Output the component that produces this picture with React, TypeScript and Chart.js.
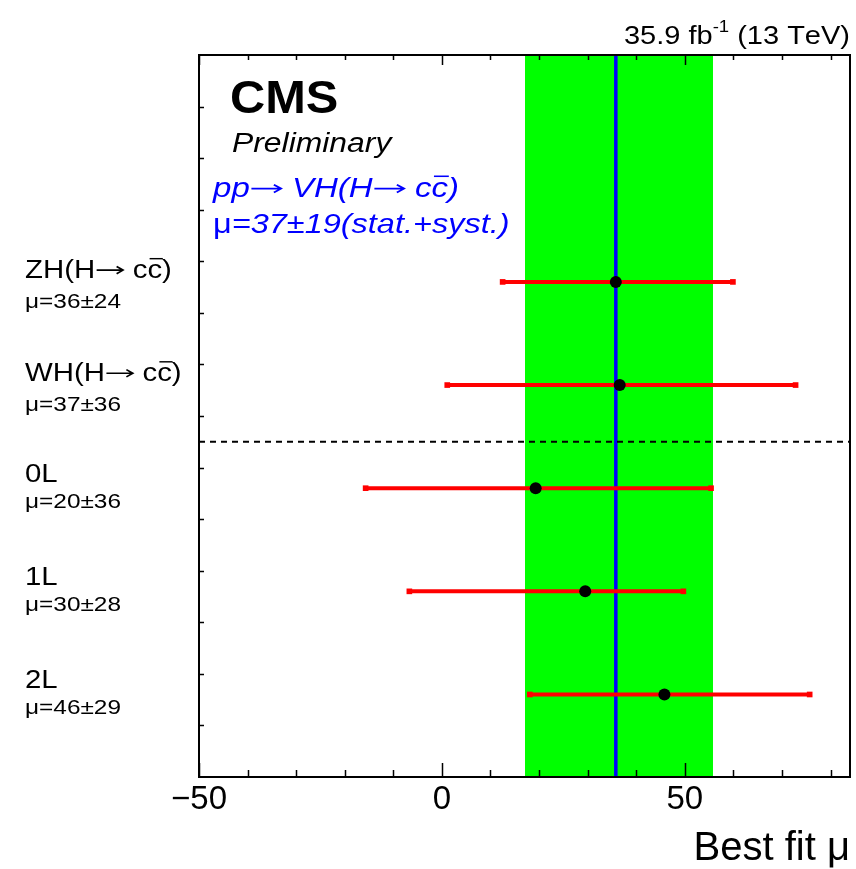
import React, { useEffect, useRef } from 'react';
import { Chart, registerables } from 'chart.js';

Chart.register(...registerables);

// ---- data ----
const categories = ['ZH(H→ cc\u0304)', 'WH(H→ cc\u0304)', '0L', '1L', '2L'];
const muLabels = ['μ=36±24', 'μ=37±36', 'μ=20±36', 'μ=30±28', 'μ=46±29'];
const bestFit = [35.8, 36.6, 19.3, 29.5, 45.8];
const errLow = [12.5, 1.1, -15.7, -6.7, 18.1];
const errHigh = [59.9, 72.8, 55.4, 49.7, 75.7];
const rowY = [9.6, 7.6, 5.6, 3.6, 1.6];
const separatorY = 6.5;
const combined = 35.8;
const combinedLow = 17.1;
const combinedHigh = 55.8;
const xMin = -50;
const xMax = 84;
const yMin = 0;
const yMax = 14;
const xTickLabels = [-50, 0, 50];
const xTickStep = 10;
const lumiMain = '35.9 fb';
const lumiSup = '-1';
const lumiTail = ' (13 TeV)';
const cmsText = 'CMS';
const prelimText = 'Preliminary';
const processText = 'pp→ VH(H→ cc\u0304)';
const muCombinedSym = 'μ';
const muCombinedText = '=37±19(stat.+syst.)';
const xTitle = 'Best fit μ';

const FAMILY = '"Liberation Sans", Arial, Helvetica, sans-serif';
const STRETCH = 1.16;

function charWidth(ctx: CanvasRenderingContext2D, ch: string, size: number) {
  if (ch === '→') return size * 1.0;
  return ctx.measureText(ch).width;
}

function measureRich(ctx: CanvasRenderingContext2D, text: string, size: number) {
  let w = 0;
  for (const ch of Array.from(text)) {
    if (ch === '\u0304') continue;
    w += charWidth(ctx, ch, size);
  }
  return w;
}

function drawRich(ctx: CanvasRenderingContext2D, text: string, x: number, y: number, size: number) {
  let cx = x;
  const chars = Array.from(text);
  const color = ctx.fillStyle as string;
  for (let i = 0; i < chars.length; i++) {
    const ch = chars[i];
    if (ch === '\u0304') continue;
    const w = charWidth(ctx, ch, size);
    if (ch === '→') {
      const ay = y - size * 0.3;
      const x0 = cx + size * 0.05;
      const x1 = cx + size * 0.95;
      ctx.save();
      ctx.strokeStyle = color;
      ctx.lineWidth = Math.max(1, size * 0.06);
      ctx.beginPath();
      ctx.moveTo(x0, ay);
      ctx.lineTo(x1, ay);
      ctx.moveTo(x1 - size * 0.22, ay - size * 0.14);
      ctx.lineTo(x1, ay);
      ctx.lineTo(x1 - size * 0.22, ay + size * 0.14);
      ctx.stroke();
      ctx.restore();
    } else {
      ctx.fillText(ch, cx, y);
    }
    if (chars[i + 1] === '\u0304') {
      const oy = y - size * 0.74;
      ctx.save();
      ctx.strokeStyle = color;
      ctx.lineWidth = Math.max(1, size * 0.055);
      ctx.beginPath();
      ctx.moveTo(cx + w * 0.15, oy);
      ctx.lineTo(cx + w * 1.05, oy);
      ctx.stroke();
      ctx.restore();
    }
    cx += w;
  }
  return cx;
}

function drawText(
  ctx: CanvasRenderingContext2D,
  text: string,
  x: number,
  y: number,
  size: number,
  opt: { style?: string; weight?: string; stretch?: number; align?: 'left' | 'right' } = {}
) {
  const stretch = opt.stretch ?? STRETCH;
  ctx.font = `${opt.style ?? 'normal'} ${opt.weight ?? 'normal'} ${size}px ${FAMILY}`;
  const w = measureRich(ctx, text, size) * stretch;
  const x0 = opt.align === 'right' ? x - w : x;
  ctx.save();
  ctx.translate(x0, y);
  ctx.scale(stretch, 1);
  drawRich(ctx, text, 0, 0, size);
  ctx.restore();
  return x0 + w;
}

function textWidth(ctx: CanvasRenderingContext2D, text: string, size: number, style = 'normal', stretch = STRETCH) {
  ctx.font = `${style} normal ${size}px ${FAMILY}`;
  return measureRich(ctx, text, size) * stretch;
}

const decorPlugin = {
  id: 'decor',
  afterDatasetsDraw(chart: any) {
    const { ctx, chartArea } = chart;
    const xs = chart.scales.x;
    const ys = chart.scales.y;
    const { left, right, top, bottom } = chartArea;
    ctx.save();
    // frame
    ctx.strokeStyle = '#000';
    ctx.lineWidth = 2;
    ctx.strokeRect(left, top, right - left, bottom - top);
    // x ticks (bottom and top, inside)
    ctx.lineWidth = 1.5;
    ctx.beginPath();
    for (let v = xMin; v <= xMax; v += xTickStep) {
      const px = Math.round(xs.getPixelForValue(v)) + 0.5;
      const major = v % 50 === 0;
      const lb = major ? 14 : 7;
      const lt = major ? 10 : 5;
      ctx.moveTo(px, bottom);
      ctx.lineTo(px, bottom - lb);
      ctx.moveTo(px, top);
      ctx.lineTo(px, top + lt);
    }
    // y ticks (left, inside)
    for (let v = yMin + 1; v < yMax; v += 1) {
      const py = Math.round(ys.getPixelForValue(v)) + 0.5;
      ctx.moveTo(left, py);
      ctx.lineTo(left + 5, py);
    }
    ctx.stroke();

    ctx.textBaseline = 'alphabetic';
    ctx.textAlign = 'left';
    // CMS
    ctx.fillStyle = '#000';
    drawText(ctx, cmsText, 230, 113, 46, { weight: 'bold', stretch: 1.06 });
    drawText(ctx, prelimText, 232, 152, 27, { style: 'italic', stretch: 1.18 });
    // blue lines
    ctx.fillStyle = '#0000ff';
    drawText(ctx, processText, 213, 197, 28, { style: 'italic', stretch: 1.18 });
    const ex = drawText(ctx, muCombinedSym, 213, 233, 28, { stretch: 1.16 });
    drawText(ctx, muCombinedText, ex, 233, 28, { style: 'italic', stretch: 1.16 });

    // left labels
    ctx.fillStyle = '#000';
    for (let i = 0; i < categories.length; i++) {
      const py = ys.getPixelForValue(rowY[i]);
      const paren = categories[i].includes('(');
      drawText(ctx, categories[i], 25, py + (paren ? -4 : -6), 26, { stretch: 1.13 });
      drawText(ctx, muLabels[i], 25, py + (paren ? 26 : 20), 20, { stretch: 1.22 });
    }

    // lumi
    const wTail = textWidth(ctx, lumiTail, 25, 'normal', 1.16);
    const wSup = textWidth(ctx, lumiSup, 16, 'normal', 1.16);
    const wMain = textWidth(ctx, lumiMain, 25, 'normal', 1.16);
    let lx = right - wTail - wSup - wMain;
    lx = drawText(ctx, lumiMain, lx, 44, 25, { stretch: 1.16 });
    lx = drawText(ctx, lumiSup, lx, 32, 16, { stretch: 1.16 });
    drawText(ctx, lumiTail, lx, 44, 25, { stretch: 1.16 });
    ctx.restore();
  },
};

function fmtTick(v: number) {
  return v < 0 ? '\u2212' + Math.abs(v) : String(v);
}

export default function App() {
  const ref = useRef<HTMLCanvasElement>(null);
  useEffect(() => {
    document.body.style.margin = '0';
    const canvas = ref.current;
    if (!canvas) return;
    Chart.defaults.font.family = FAMILY;
    const datasets: any[] = [];
    // markers
    datasets.push({
      label: 'best fit',
      data: bestFit.map((v, i) => ({ x: v, y: rowY[i] })),
      showLine: false,
      pointRadius: 6,
      pointBackgroundColor: '#000',
      pointBorderWidth: 0,
      order: 0,
    });
    // error bars
    for (let i = 0; i < bestFit.length; i++) {
      datasets.push({
        label: 'err' + i,
        data: [
          { x: errLow[i], y: rowY[i] },
          { x: errHigh[i], y: rowY[i] },
        ],
        borderColor: '#ff0000',
        borderWidth: 4,
        pointStyle: 'rect',
        pointRadius: 4,
        pointBackgroundColor: '#ff0000',
        pointBorderWidth: 0,
        order: 1,
      });
    }
    datasets.push({
      label: 'separator',
      data: [
        { x: xMin, y: separatorY },
        { x: xMax, y: separatorY },
      ],
      borderColor: '#000',
      borderWidth: 2,
      borderDash: [6, 5],
      pointRadius: 0,
      order: 2,
    });
    datasets.push({
      label: 'combined',
      data: [
        { x: combined, y: yMin },
        { x: combined, y: yMax },
      ],
      borderColor: '#0000ff',
      borderWidth: 3.5,
      pointRadius: 0,
      order: 3,
    });
    datasets.push({
      label: 'band',
      data: [
        { x: combinedLow, y: yMax },
        { x: combinedHigh, y: yMax },
      ],
      borderWidth: 0,
      borderColor: 'rgba(0,0,0,0)',
      backgroundColor: '#00ff00',
      fill: 'start',
      pointRadius: 0,
      order: 4,
    });

    const chart = new Chart(canvas, {
      type: 'line',
      data: { datasets },
      options: {
        responsive: false,
        animation: false,
        layout: { padding: { top: 55, right: 5, left: 0, bottom: 0 } },
        plugins: { legend: { display: false }, tooltip: { enabled: false } },
        scales: {
          x: {
            type: 'linear',
            min: xMin,
            max: xMax,
            position: 'bottom',
            grid: { display: false, drawTicks: false },
            border: { display: false },
            ticks: {
              stepSize: xTickStep,
              autoSkip: false,
              maxRotation: 0,
              padding: 3,
              color: '#000',
              font: { size: 33 },
              callback: (v: any) => (xTickLabels.includes(Number(v)) ? fmtTick(Number(v)) : ''),
            },
            title: {
              display: true,
              text: xTitle,
              align: 'end',
              color: '#000',
              font: { size: 40, lineHeight: 1 },
              padding: 0,
            },
            afterFit: (s: any) => {
              s.height = 92;
            },
          },
          y: {
            type: 'linear',
            min: yMin,
            max: yMax,
            grid: { display: false, drawTicks: false },
            border: { display: false },
            ticks: { display: false },
            afterFit: (s: any) => {
              s.width = 199;
            },
          },
        },
      } as any,
      plugins: [decorPlugin],
    });
    return () => chart.destroy();
  }, []);
  return (
    <div style={{ width: 856, height: 869 }}>
      <canvas ref={ref} width={856} height={869} style={{ display: 'block' }} />
    </div>
  );
}
